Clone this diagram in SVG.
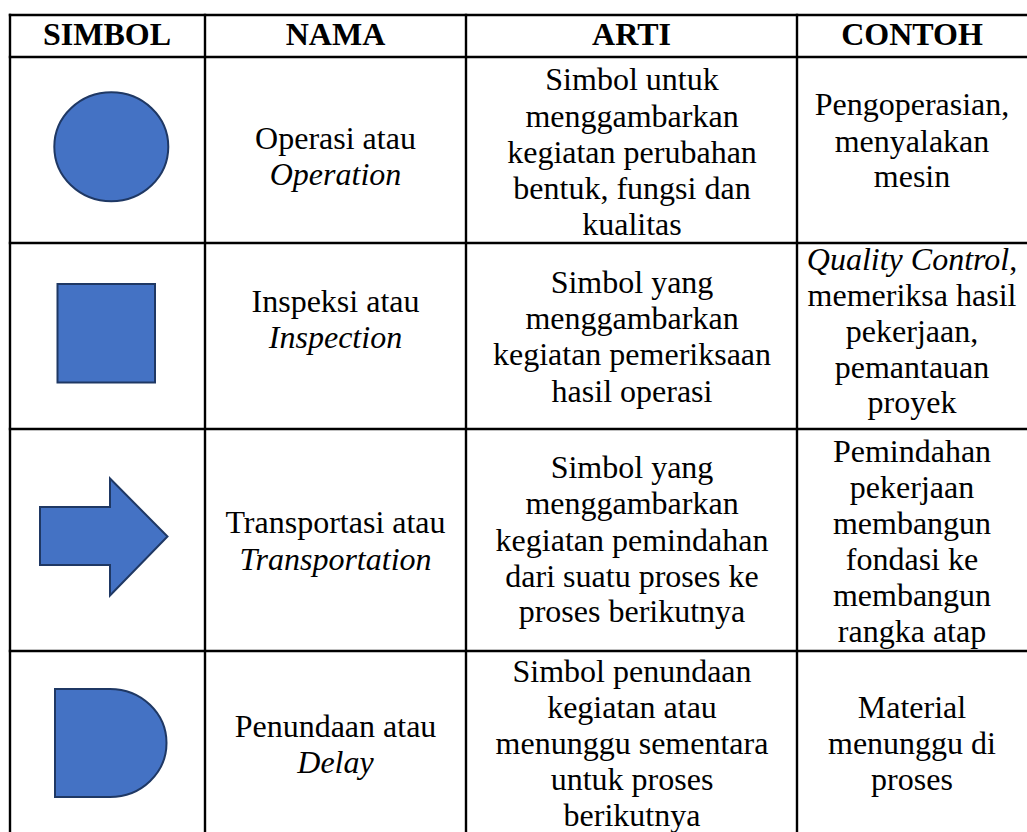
<svg xmlns="http://www.w3.org/2000/svg" width="1027" height="832" viewBox="0 0 1027 832">
<style>
text{font-family:"Liberation Serif","Times New Roman",serif;font-size:32px;fill:#000;text-anchor:middle}
.h{font-weight:bold}
.i{font-style:italic}
.grid line{stroke:#000;stroke-width:2.4}
.sym{fill:#4472C4;stroke:#1F3864;stroke-width:2}
</style>
<rect x="0" y="0" width="1027" height="832" fill="#fff"/>
<g id="grid" class="grid">
<line x1="8.8" y1="15" x2="1027" y2="15"/>
<line x1="8.8" y1="57" x2="1027" y2="57"/>
<line x1="8.8" y1="243" x2="1027" y2="243"/>
<line x1="8.8" y1="429" x2="1027" y2="429"/>
<line x1="8.8" y1="651" x2="1027" y2="651"/>
<line x1="10" y1="13.8" x2="10" y2="832"/>
<line x1="205" y1="13.8" x2="205" y2="832"/>
<line x1="466" y1="13.8" x2="466" y2="832"/>
<line x1="797" y1="13.8" x2="797" y2="832"/>
</g>
<g id="header">
<text class="h" x="107" y="45">SIMBOL</text>
<text class="h" x="335.5" y="45">NAMA</text>
<text class="h" x="631.5" y="45">ARTI</text>
<text class="h" x="912" y="45">CONTOH</text>
</g>
<g id="row-operation">
<ellipse class="sym" cx="111.3" cy="146.8" rx="57" ry="54.5"/>
<text x="335.5" y="149">Operasi atau</text>
<text class="i" x="335.5" y="185">Operation</text>
<text x="632" y="90">Simbol untuk</text>
<text x="632" y="126.5">menggambarkan</text>
<text x="632" y="163">kegiatan perubahan</text>
<text x="632" y="199">bentuk, fungsi dan</text>
<text x="632" y="235">kualitas</text>
<text x="912" y="115">Pengoperasian,</text>
<text x="912" y="151.5">menyalakan</text>
<text x="912" y="187">mesin</text>
</g>
<g id="row-inspection">
<rect class="sym" x="57.5" y="284" width="97.5" height="98.5"/>
<text x="335.5" y="311.5">Inspeksi atau</text>
<text class="i" x="335.5" y="347.5">Inspection</text>
<text x="632" y="293">Simbol yang</text>
<text x="632" y="329">menggambarkan</text>
<text x="632" y="365">kegiatan pemeriksaan</text>
<text x="632" y="401.5">hasil operasi</text>
<text x="912" y="270"><tspan class="i">Quality Control</tspan>,</text>
<text x="912" y="305.5">memeriksa hasil</text>
<text x="912" y="341.5">pekerjaan,</text>
<text x="912" y="377.5">pemantauan</text>
<text x="912" y="413">proyek</text>
</g>
<g id="row-transportation">
<polygon class="sym" points="40,507 110,507 110,478.5 167.5,536.5 110,595.5 110,565 40,565"/>
<text x="335.5" y="533">Transportasi atau</text>
<text class="i" x="335.5" y="570">Transportation</text>
<text x="632" y="478">Simbol yang</text>
<text x="632" y="514">menggambarkan</text>
<text x="632" y="550.5">kegiatan pemindahan</text>
<text x="632" y="586.5">dari suatu proses ke</text>
<text x="632" y="622">proses berikutnya</text>
<text x="912" y="461.5">Pemindahan</text>
<text x="912" y="497.5">pekerjaan</text>
<text x="912" y="533.5">membangun</text>
<text x="912" y="569.5">fondasi ke</text>
<text x="912" y="605.5">membangun</text>
<text x="912" y="641.5">rangka atap</text>
</g>
<g id="row-delay">
<path class="sym" d="M55,689 H110 A56.5,54 0 0 1 110,797 H55 Z"/>
<text x="335.5" y="737">Penundaan atau</text>
<text class="i" x="335.5" y="773">Delay</text>
<text x="632" y="681.5">Simbol penundaan</text>
<text x="632" y="717.5">kegiatan atau</text>
<text x="632" y="753.5">menunggu sementara</text>
<text x="632" y="789.5">untuk proses</text>
<text x="632" y="826">berikutnya</text>
<text x="912" y="717.5">Material</text>
<text x="912" y="753.5">menunggu di</text>
<text x="912" y="789.5">proses</text>
</g>
</svg>
